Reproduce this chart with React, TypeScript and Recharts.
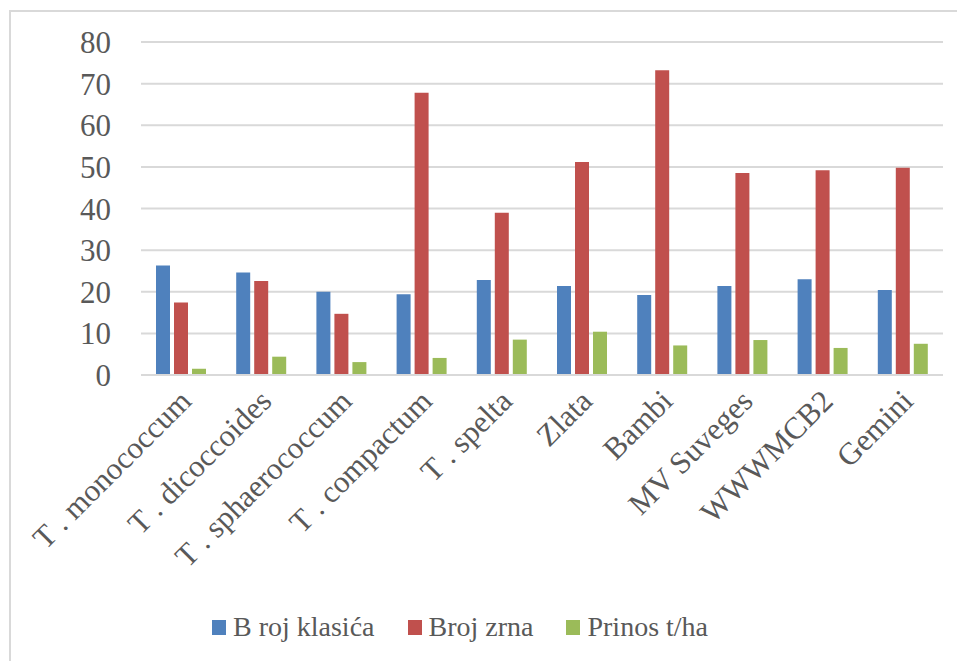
import React from "react";
import { Bar, BarChart, CartesianGrid, Legend, XAxis, YAxis } from "recharts";

const categories = [
  "T . monococcum",
  "T . dicoccoides",
  "T . sphaerococcum",
  "T . compactum",
  "T . spelta",
  "Zlata",
  "Bambi",
  "MV Suveges",
  "WWWMCB2",
  "Gemini",
];

const brojKlasica = [26.3, 24.6, 20.0, 19.4, 22.8, 21.4, 19.2, 21.4, 23.0, 20.4];
const brojZrna = [17.4, 22.6, 14.7, 67.8, 39.0, 51.2, 73.2, 48.5, 49.2, 49.8];
const prinos = [1.5, 4.4, 3.1, 4.1, 8.5, 10.4, 7.1, 8.4, 6.5, 7.5];

const yTicks = [0, 10, 20, 30, 40, 50, 60, 70, 80];

const seriesNames = ["B roj klasića", "Broj zrna", "Prinos t/ha"];
const seriesColors = ["#4F81BD", "#C0504D", "#9BBB59"];

const data = categories.map((name, i) => ({
  name,
  klasica: brojKlasica[i],
  zrna: brojZrna[i],
  prinos: prinos[i],
}));

const FONT = "'Liberation Serif', 'Times New Roman', serif";
const TEXT = "#595959";

const CategoryTick = ({ x, y, payload }: any) => (
  <g transform={`translate(${x + 12},${y + 20})`}>
    <text
      x={0}
      y={0}
      textAnchor="end"
      transform="rotate(-45)"
      fill={TEXT}
      fontSize={31}
      fontFamily={FONT}
    >
      {payload.value}
    </text>
  </g>
);

const LegendContent = () => (
  <div
    style={{
      height: 40,
      display: "flex",
      justifyContent: "center",
      alignItems: "center",
      fontFamily: FONT,
      fontSize: 28,
      color: TEXT,
      paddingRight: 34,
      position: "relative",
      top: -5,
    }}
  >
    {seriesNames.map((n, i) => (
      <div
        key={n}
        style={{ display: "flex", alignItems: "center", marginRight: i < 2 ? 33 : 0 }}
      >
        <span
          style={{
            width: 14,
            height: 15,
            background: seriesColors[i],
            display: "inline-block",
            marginRight: 7,
          }}
        />
        <span style={{ fontFamily: FONT }}>{n}</span>
      </div>
    ))}
  </div>
);

export default function App() {
  return (
    <div
      style={{
        position: "absolute",
        left: 9,
        top: 10,
        width: 947,
        height: 650,
        borderLeft: "2px solid #D9D9D9",
        borderTop: "2px solid #D9D9D9",
        background: "#fff",
        fontFamily: FONT,
      }}
    >
      <BarChart
        width={940}
        height={648}
        data={data}
        margin={{ top: 30, right: 8, left: 0, bottom: 8 }}
        barSize={14}
        barGap={4}
      >
        <CartesianGrid vertical={false} stroke="#D9D9D9" strokeWidth={2} />
        <XAxis
          dataKey="name"
          interval={0}
          height={237}
          axisLine={{ stroke: "#D9D9D9", strokeWidth: 2 }}
          tickLine={false}
          tick={<CategoryTick />}
        />
        <YAxis
          width={130}
          domain={[0, 80]}
          ticks={yTicks}
          axisLine={false}
          tickLine={false}
          tickMargin={24}
          tick={{ fill: TEXT, fontSize: 31, fontFamily: FONT }}
        />
        <Legend verticalAlign="bottom" content={<LegendContent />} />
        <Bar dataKey="klasica" name={seriesNames[0]} fill={seriesColors[0]} isAnimationActive={false} />
        <Bar dataKey="zrna" name={seriesNames[1]} fill={seriesColors[1]} isAnimationActive={false} />
        <Bar dataKey="prinos" name={seriesNames[2]} fill={seriesColors[2]} isAnimationActive={false} />
      </BarChart>
    </div>
  );
}
